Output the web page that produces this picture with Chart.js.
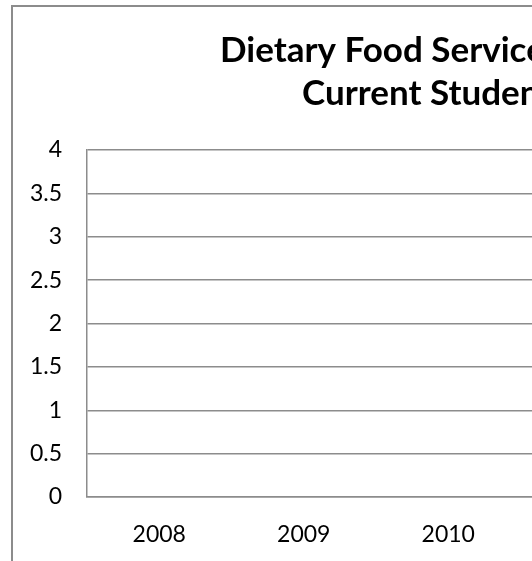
<!DOCTYPE html>
<html>
<head>
<meta charset="utf-8">
<title>Dietary Food Service - Current Students</title>
<script src="https://cdn.jsdelivr.net/npm/chart.js@4"></script>
<style>
  html, body { margin: 0; padding: 0; background: #fff; overflow: hidden; }
  #frame {
    position: absolute; left: 11px; top: 5px;
    width: 800px; height: 640px;
    border: 2px solid #8c8c8c;
  }
  #chart { display: block; }
</style>
</head>
<body>
<div id="frame">
  <canvas id="chart" width="760" height="600"></canvas>
</div>
<script>
// chart data
const years = ['2008', '2009', '2010', '2011'];
const currentStudents = [0, 0, 0, 0];
const titleLines = ['Dietary Food Service', 'Current Students'];
const yTicks = [0, 0.5, 1, 1.5, 2, 2.5, 3, 3.5, 4];

const FONT = 'Lato, "Open Sans", sans-serif';
const GRID = '#8c8c8c';

// title is drawn line by line so each line sits where the original has it
const titlePlugin = {
  id: 'titleLines',
  afterDraw(chart) {
    const ctx = chart.ctx;
    ctx.save();
    ctx.fillStyle = '#000';
    ctx.font = 'bold 35px ' + FONT;
    ctx.textAlign = 'left';
    ctx.textBaseline = 'alphabetic';
    ctx.fillText(titleLines[0], 207, 55);
    ctx.fillText(titleLines[1], 289, 98);
    ctx.restore();
  }
};

new Chart(document.getElementById('chart'), {
  type: 'bar',
  data: {
    labels: years,
    datasets: [{
      label: 'Current Students',
      data: currentStudents,
      backgroundColor: '#4f81bd',
      borderWidth: 0
    }]
  },
  options: {
    responsive: false,
    animation: false,
    layout: { padding: { top: 143, right: 108, left: 0, bottom: 0 } },
    plugins: {
      legend: { display: false },
      tooltip: { enabled: false },
      title: { display: false }
    },
    scales: {
      x: {
        afterFit(s) { s.height = 110; },
        grid: { display: false, drawTicks: false },
        border: { display: true, color: GRID, width: 1.5 },
        ticks: { color: '#000', font: { family: FONT, size: 23 }, padding: 24, maxRotation: 0 }
      },
      y: {
        min: 0,
        max: 4,
        afterFit(s) { s.width = 74; },
        afterBuildTicks(s) { s.ticks = yTicks.map(v => ({ value: v })); },
        grid: { color: GRID, lineWidth: 1.5, drawTicks: false },
        border: { display: true, color: GRID, width: 1.5 },
        ticks: {
          color: '#000',
          font: { family: FONT, size: 23 },
          padding: 25,
          callback: v => String(v)
        }
      }
    }
  },
  plugins: [titlePlugin]
});
</script>
</body>
</html>
